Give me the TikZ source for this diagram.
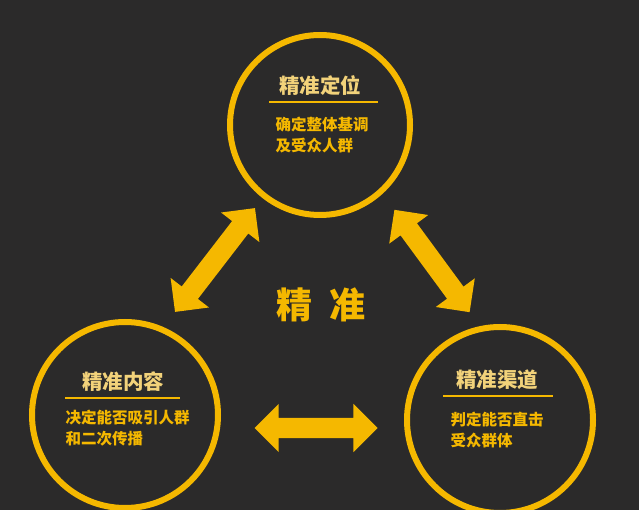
\documentclass[tikz,border=0pt]{standalone}
\usepackage{fontspec}
\newfontfamily\cjk{Noto Sans CJK SC}
\usetikzlibrary{shapes.arrows}
\definecolor{bg}{HTML}{2B2A2A}
\definecolor{ylw}{HTML}{F5B800}
\definecolor{ttl}{HTML}{F2D27A}
\tikzset{
 ring/.style={draw=ylw,line width=6pt,circle,minimum size=#1},
 dbl/.style={double arrow,fill=ylw,draw=none,minimum height=#1,inner xsep=0pt,inner ysep=10pt,double arrow head extend=14pt,double arrow head indent=0pt},
 ttltext/.style={font=\cjk\bfseries\fontsize{20.5}{20.5}\selectfont,text=ttl},
 bodytext/.style={font=\cjk\bfseries\fontsize{15.5}{21}\selectfont,text=ylw,align=left,anchor=north west},
 uline/.style={draw=ylw,line width=2.5pt}
}
\begin{document}
\begin{tikzpicture}[x=1pt,y=-1pt]
\fill[bg] (0,0) rectangle (639,510);
\useasboundingbox (0,0) rectangle (639,510);
\node[ring=180pt] (top) at (320,125) {};
\node[ring=186pt] (left) at (125,415) {};
\node[ring=186pt] (right) at (500,420) {};
\node[dbl=131pt,rotate=52.4] (a1) at (215,260) {};
\node[dbl=127pt,rotate=-53.7] (a2) at (432,261) {};
\node[dbl=123pt] (a3) at (316,428) {};
\node[font=\cjk\bfseries\fontsize{36}{36}\selectfont,text=ylw] (c) at (321,305) {精\ \ 准};
% top
\node[ttltext] (t1) at (320,86) {精准定位};
\coordinate (u1a) at (269,102); \coordinate (u1b) at (378,102);
\draw[uline] (u1a) -- (u1b);
\node[bodytext] (b1) at (272,114) {确定整体基调\\及受众人群};
% left
\node[ttltext] (t2) at (123,382) {精准内容};
\coordinate (u2a) at (65,398); \coordinate (u2b) at (180,398);
\draw[uline] (u2a) -- (u2b);
\node[bodytext] (b2) at (62,407) {决定能否吸引人群\\和二次传播};
% right
\node[ttltext] (t3) at (497,380) {精准渠道};
\coordinate (u3a) at (443,396); \coordinate (u3b) at (553,396);
\draw[uline] (u3a) -- (u3b);
\node[bodytext] (b3) at (447,409) {判定能否直击\\受众群体};
\end{tikzpicture}
\end{document}
